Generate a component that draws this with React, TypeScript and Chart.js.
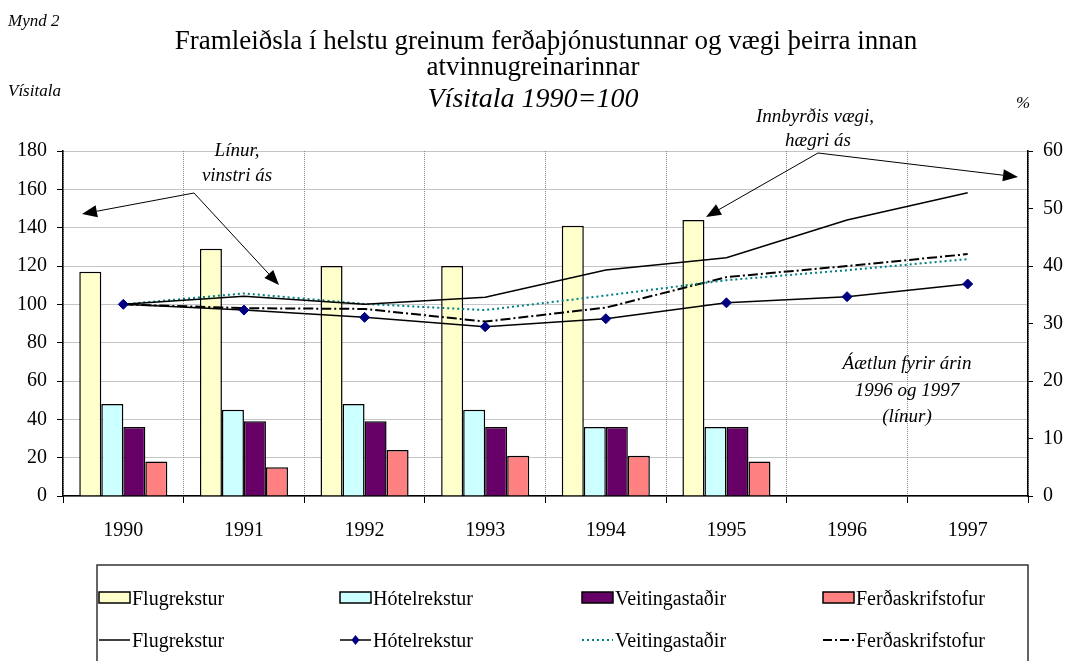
import React, { useEffect, useRef } from "react";
import { Chart, registerables } from "chart.js";

Chart.register(...registerables);

const FONT = '"Liberation Serif", "Times New Roman", serif';

// Categories
const years = ["1990", "1991", "1992", "1993", "1994", "1995", "1996", "1997"];

// Bars: internal weight, % (right axis)
const shareFlug = [39, 43, 40, 40, 47, 48, null, null];
const shareHotel = [16, 15, 16, 15, 12, 12, null, null];
const shareVeit = [12, 13, 13, 12, 12, 12, null, null];
const shareFerd = [6, 5, 8, 7, 7, 6, null, null];

// Lines: index 1990=100 (left axis)
const idxFlug = [100, 104.2, 100.1, 103.7, 117.9, 124.3, 144, 158.2];
const idxHotel = [100, 97, 93.2, 88.3, 92.5, 100.8, 104, 110.6];
const idxVeit = [100, 105.7, 100.2, 97, 104.6, 112.6, 117.8, 123.6];
const idxFerd = [100, 98, 97.6, 91, 98.3, 114.2, 120, 126.2];

// Axis settings
const leftMax = 180;
const leftStep = 20;
const rightMax = 60;
const rightStep = 10;

const seriesNames = ["Flugrekstur", "Hótelrekstur", "Veitingastaðir", "Ferðaskrifstofur"];
const barColors = ["#FFFFCC", "#CCFFFF", "#660066", "#FF8080"];

function drawArrow(ctx: CanvasRenderingContext2D, x1: number, y1: number, x2: number, y2: number) {
  const ang = Math.atan2(y2 - y1, x2 - x1);
  const L = 15;
  const W = 6;
  const bx = x2 - L * Math.cos(ang);
  const by = y2 - L * Math.sin(ang);
  ctx.beginPath();
  ctx.moveTo(x1, y1);
  ctx.lineTo(bx, by);
  ctx.stroke();
  ctx.beginPath();
  ctx.moveTo(x2, y2);
  ctx.lineTo(bx + W * Math.sin(ang), by - W * Math.cos(ang));
  ctx.lineTo(bx - W * Math.sin(ang), by + W * Math.cos(ang));
  ctx.closePath();
  ctx.fill();
}

const decorPlugin = {
  id: "decor",
  afterDraw(chart: any) {
    const ctx: CanvasRenderingContext2D = chart.ctx;
    ctx.save();
    ctx.fillStyle = "#000";
    ctx.strokeStyle = "#000";
    ctx.textBaseline = "alphabetic";

    // Corner labels
    ctx.font = `italic 17px ${FONT}`;
    ctx.textAlign = "left";
    ctx.fillText("Mynd 2", 8, 26);
    ctx.fillText("Vísitala", 8, 96);
    ctx.fillText("%", 1016, 108);

    // Title
    ctx.textAlign = "center";
    ctx.font = `27px ${FONT}`;
    ctx.fillText("Framleiðsla í helstu greinum ferðaþjónustunnar og vægi þeirra innan", 546, 49);
    ctx.fillText("atvinnugreinarinnar", 533, 75);
    ctx.font = `italic 28px ${FONT}`;
    ctx.fillText("Vísitala 1990=100", 533, 107);

    // Annotations
    ctx.font = `italic 19px ${FONT}`;
    ctx.fillText("Línur,", 237, 156);
    ctx.fillText("vinstri ás", 237, 181);
    ctx.fillText("Innbyrðis vægi,", 815, 122);
    ctx.fillText("hægri ás", 818, 146);
    ctx.fillText("Áætlun fyrir árin", 907, 369);
    ctx.fillText("1996 og 1997", 907, 396);
    ctx.fillText("(línur)", 907, 422);

    ctx.lineWidth = 1;
    drawArrow(ctx, 194, 193, 82, 214);
    drawArrow(ctx, 194, 193, 279, 285);
    drawArrow(ctx, 818, 153, 706, 217);
    drawArrow(ctx, 818, 153, 1018, 177);

    // Legend box
    ctx.strokeStyle = "#333";
    ctx.lineWidth = 1.5;
    ctx.beginPath();
    ctx.moveTo(97, 670);
    ctx.lineTo(97, 565);
    ctx.lineTo(1028, 565);
    ctx.lineTo(1028, 670);
    ctx.stroke();

    const cols = [99, 340, 582, 823];
    const row1 = 598;
    const row2 = 640;
    ctx.font = `20px ${FONT}`;
    ctx.textAlign = "left";
    ctx.textBaseline = "middle";
    for (let i = 0; i < 4; i++) {
      const x = cols[i];
      ctx.fillStyle = barColors[i];
      ctx.fillRect(x, row1 - 6, 31, 11);
      ctx.strokeStyle = "#000";
      ctx.lineWidth = 1.5;
      ctx.strokeRect(x, row1 - 6, 31, 11);
      ctx.fillStyle = "#000";
      ctx.fillText(seriesNames[i], x + 33, row1 + 2);
      ctx.fillText(seriesNames[i], x + 33, row2 + 2);
    }
    // line swatches
    ctx.save();
    ctx.strokeStyle = "#000";
    ctx.lineWidth = 1.5;
    ctx.beginPath();
    ctx.moveTo(cols[0], row2);
    ctx.lineTo(cols[0] + 31, row2);
    ctx.stroke();
    ctx.beginPath();
    ctx.moveTo(cols[1], row2);
    ctx.lineTo(cols[1] + 31, row2);
    ctx.stroke();
    ctx.fillStyle = "#000080";
    ctx.beginPath();
    const dx = cols[1] + 15.5;
    ctx.moveTo(dx, row2 - 5);
    ctx.lineTo(dx + 4, row2);
    ctx.lineTo(dx, row2 + 5);
    ctx.lineTo(dx - 4, row2);
    ctx.closePath();
    ctx.fill();
    ctx.strokeStyle = "#008080";
    ctx.lineWidth = 2;
    ctx.setLineDash([2, 3]);
    ctx.beginPath();
    ctx.moveTo(cols[2], row2);
    ctx.lineTo(cols[2] + 31, row2);
    ctx.stroke();
    ctx.strokeStyle = "#000";
    ctx.setLineDash([9, 3, 2, 3]);
    ctx.beginPath();
    ctx.moveTo(cols[3], row2);
    ctx.lineTo(cols[3] + 31, row2);
    ctx.stroke();
    ctx.restore();

    ctx.restore();
  },
};

export default function App() {
  const ref = useRef<HTMLCanvasElement | null>(null);

  useEffect(() => {
    if (!ref.current) return;
    Chart.defaults.font.family = FONT;
    Chart.defaults.color = "#000";

    const barDs = (label: string, data: (number | null)[], color: string) => ({
      type: "bar" as const,
      label,
      data,
      yAxisID: "y1",
      backgroundColor: color,
      borderColor: "#000",
      borderWidth: 1.5,
      categoryPercentage: 0.73,
      barPercentage: 1.0,
      order: 2,
    });

    const chart = new Chart(ref.current, {
      type: "bar",
      data: {
        labels: years,
        datasets: [
          barDs(seriesNames[0], shareFlug, barColors[0]),
          barDs(seriesNames[1], shareHotel, barColors[1]),
          barDs(seriesNames[2], shareVeit, barColors[2]),
          barDs(seriesNames[3], shareFerd, barColors[3]),
          {
            type: "line" as const,
            label: seriesNames[0],
            data: idxFlug,
            yAxisID: "y",
            borderColor: "#000",
            borderWidth: 1.5,
            pointRadius: 0,
            tension: 0,
            order: 1,
          },
          {
            type: "line" as const,
            label: seriesNames[1],
            data: idxHotel,
            yAxisID: "y",
            borderColor: "#000",
            borderWidth: 1.5,
            pointStyle: "rectRot",
            pointRadius: 5,
            pointBackgroundColor: "#000080",
            pointBorderColor: "#000080",
            pointBorderWidth: 1,
            tension: 0,
            order: 0,
          },
          {
            type: "line" as const,
            label: seriesNames[2],
            data: idxVeit,
            yAxisID: "y",
            borderColor: "#008080",
            borderWidth: 2,
            borderDash: [2, 3],
            pointRadius: 0,
            tension: 0,
            order: 1,
          },
          {
            type: "line" as const,
            label: seriesNames[3],
            data: idxFerd,
            yAxisID: "y",
            borderColor: "#000",
            borderWidth: 2,
            borderDash: [10, 3, 2, 3],
            pointRadius: 0,
            tension: 0,
            order: 1,
          },
        ],
      },
      options: {
        responsive: false,
        animation: false,
        devicePixelRatio: 1,
        layout: { padding: { top: 151, left: 0, right: 0, bottom: 0 } },
        plugins: {
          legend: { display: false },
          tooltip: { enabled: false },
          title: { display: false },
        },
        scales: {
          x: {
            type: "category",
            offset: true,
            grid: {
              offset: true,
              color: "#8a8a8a",
              tickColor: "#000",
              tickLength: 7,
              lineWidth: 1,
            },
            border: { display: true, color: "#000", width: 1.5, dash: [1, 1] },
            ticks: { font: { size: 20 }, color: "#000", padding: 16, maxRotation: 0 },
            afterFit: (s: any) => {
              s.height = 165;
            },
          },
          y: {
            position: "left",
            min: 0,
            max: leftMax,
            ticks: { stepSize: leftStep, font: { size: 20 }, color: "#000", padding: 10 },
            grid: { color: "#8a8a8a", tickColor: "#000", tickLength: 6, lineWidth: 1 },
            border: { display: true, color: "#000", width: 1.5, dash: [1, 1] },
            afterFit: (s: any) => {
              s.width = 63;
            },
          },
          y1: {
            position: "right",
            min: 0,
            max: rightMax,
            ticks: { stepSize: rightStep, font: { size: 20 }, color: "#000", padding: 10 },
            grid: { drawOnChartArea: false, tickColor: "#000", tickLength: 5, color: "#000" },
            border: { display: true, color: "#000", width: 1.5 },
            afterFit: (s: any) => {
              s.width = 37;
            },
          },
        },
      },
      plugins: [decorPlugin],
    } as any);

    return () => chart.destroy();
  }, []);

  return (
    <div style={{ position: "fixed", left: 0, top: 0, width: 1065, height: 661, background: "#fff" }}>
      <canvas ref={ref} width={1065} height={661} style={{ display: "block" }} />
    </div>
  );
}
